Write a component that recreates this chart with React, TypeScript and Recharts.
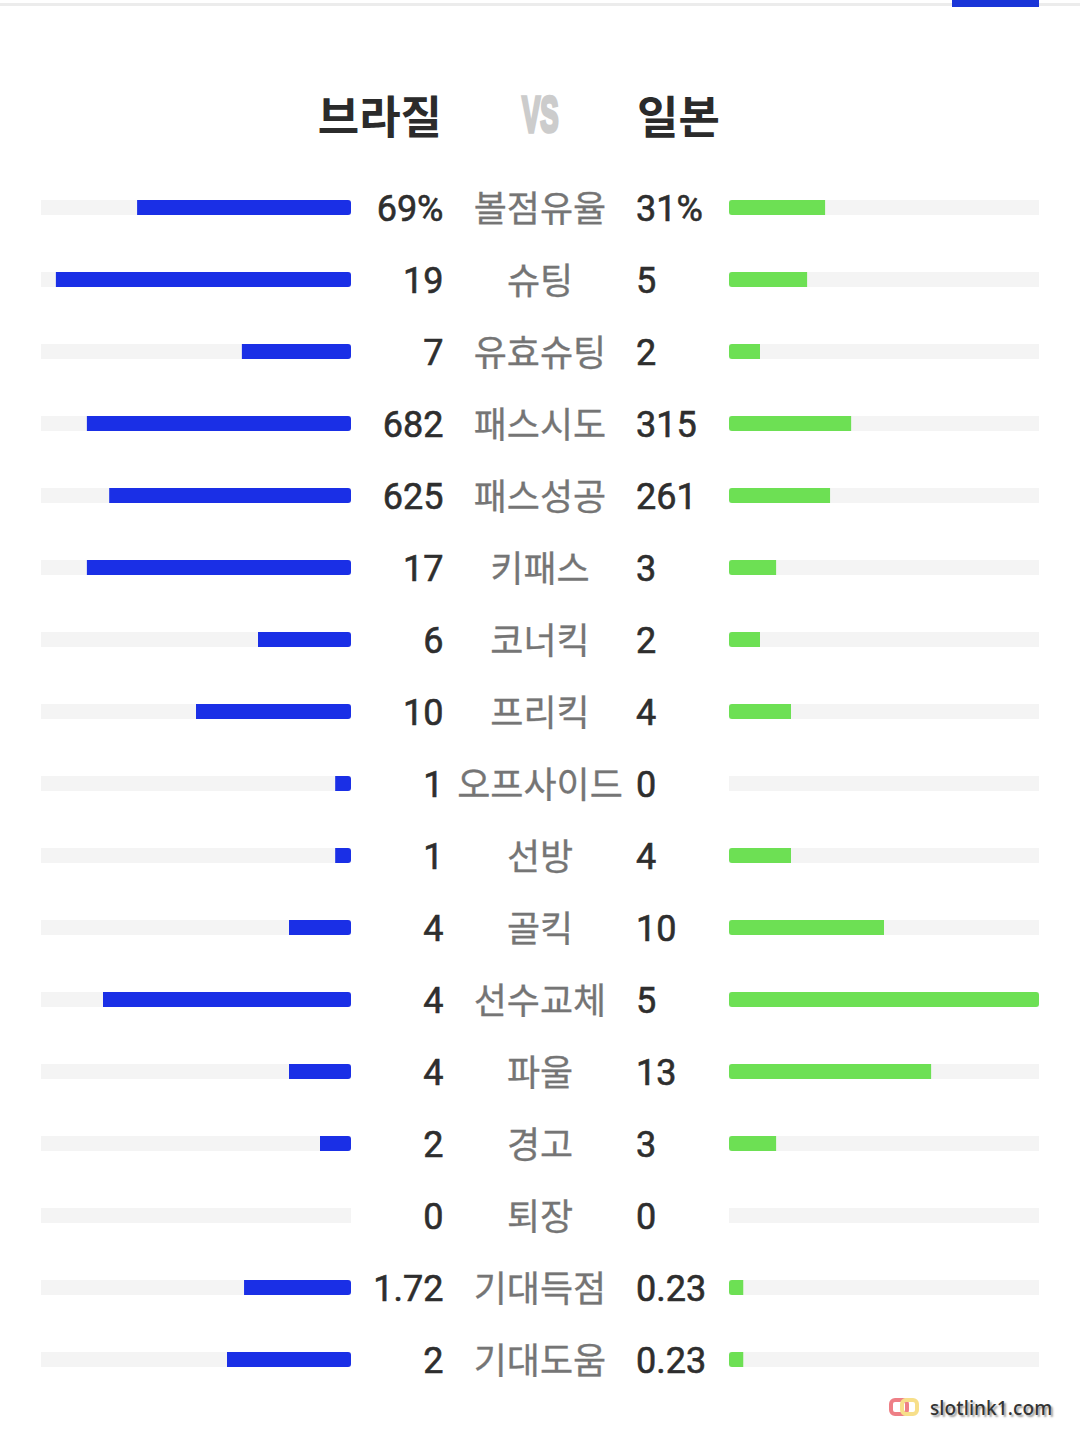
import React from "react";
import { BarChart, Bar, XAxis, YAxis, Rectangle } from "recharts";

const categories = ["볼점유율", "슈팅", "유효슈팅", "패스시도", "패스성공", "키패스", "코너킥", "프리킥", "오프사이드", "선방", "골킥", "선수교체", "파울", "경고", "퇴장", "기대득점", "기대도움"];
const brazilLabels = ["69%", "19", "7", "682", "625", "17", "6", "10", "1", "1", "4", "4", "4", "2", "0", "1.72", "2"];
const japanLabels = ["31%", "5", "2", "315", "261", "3", "2", "4", "0", "4", "10", "5", "13", "3", "0", "0.23", "0.23"];
// bar fill, % of track
const brazilBars = [69, 95.2, 35.2, 85.2, 78, 85.2, 30, 50, 5.1, 5.1, 20, 80, 20, 10, 0, 34.5, 40];
const japanBars = [31, 25.2, 10, 39.4, 32.6, 15.2, 10, 20, 0, 20, 50, 100, 65.2, 15.2, 0, 4.6, 4.6];
const trackMax = 100;

const numFont = "Roboto, sans-serif";
const krFont = "'Noto Sans CJK KR', sans-serif";

const rows = categories.map((c, i) => ({
  name: c,
  track: trackMax,
  brazil: brazilBars[i],
  japan: japanBars[i],
}));

function LeftTick({ x, y, index }: any) {
  return (
    <g>
      <text x={x + 84.5} y={y + 14} textAnchor="end" fontFamily={numFont} fontSize={36} fill="#2e2e2e" stroke="#2e2e2e" strokeWidth={0.6}>
        {brazilLabels[index]}
      </text>
      <text x={x + 181} y={y + 15} textAnchor="middle" fontFamily={krFont} fontSize={36} fill="#757575" stroke="#757575" strokeWidth={0.3}>
        {categories[index]}
      </text>
    </g>
  );
}

function RightTick({ x, y, index }: any) {
  return (
    <text x={x - 85} y={y + 14} textAnchor="start" fontFamily={numFont} fontSize={36} fill="#2e2e2e" stroke="#2e2e2e" strokeWidth={0.6}>
      {japanLabels[index]}
    </text>
  );
}

function JapanBar(props: any) {
  return <Rectangle {...props} radius={props.japan >= trackMax ? 3 : [3, 0, 0, 3]} />;
}

export default function App() {
  return (
    <div style={{ position: "absolute", left: 0, top: 0, width: 1080, height: 1449, background: "#fff", overflow: "hidden" }}>
      <div style={{ position: "absolute", left: 0, top: 3, width: 1080, height: 3, background: "#ececec" }} />
      <div style={{ position: "absolute", left: 952, top: 0, width: 87, height: 7, background: "#1a35d8" }} />

      <div style={{ position: "absolute", right: 638, top: 83, fontFamily: krFont, fontWeight: 700, fontSize: 45, lineHeight: "64px", color: "#2b2b2b" }}>브라질</div>
      <div style={{ position: "absolute", left: 637, top: 83, fontFamily: krFont, fontWeight: 700, fontSize: 45, lineHeight: "64px", color: "#2b2b2b" }}>일본</div>
      <svg style={{ position: "absolute", left: 480, top: 85 }} width={120} height={60}>
        <text transform="translate(42 47) scale(0.55 1)" fontFamily="'Liberation Sans', sans-serif" fontWeight={700} fontSize={50} fill="#cccccc" stroke="#cccccc" strokeWidth={3.5}>VS</text>
      </svg>

      <div style={{ position: "absolute", left: 41, top: 171 }}>
        <BarChart width={620} height={1224} data={rows} layout="vertical" margin={{ top: 0, right: 0, bottom: 0, left: 0 }} barCategoryGap={0} barGap={-15}>
          <XAxis type="number" domain={[0, trackMax]} reversed hide />
          <YAxis type="category" dataKey="name" orientation="right" width={310} axisLine={false} tickLine={false} interval={0} tick={<LeftTick />} />
          <Bar dataKey="track" barSize={15} fill="#f4f4f4" isAnimationActive={false} />
          <Bar dataKey="brazil" barSize={15} fill="#1a2fe6" radius={[3, 0, 0, 3]} isAnimationActive={false} />
        </BarChart>
      </div>

      <div style={{ position: "absolute", left: 629, top: 171 }}>
        <BarChart width={410} height={1224} data={rows} layout="vertical" margin={{ top: 0, right: 0, bottom: 0, left: 0 }} barCategoryGap={0} barGap={-15}>
          <XAxis type="number" domain={[0, trackMax]} hide />
          <YAxis type="category" dataKey="name" width={100} axisLine={false} tickLine={false} interval={0} tick={<RightTick />} />
          <Bar dataKey="track" barSize={15} fill="#f4f4f4" isAnimationActive={false} />
          <Bar dataKey="japan" barSize={15} fill="#6de054" shape={JapanBar} isAnimationActive={false} />
        </BarChart>
      </div>

      <svg style={{ position: "absolute", left: 888, top: 1397 }} width={34} height={22}>
        <rect x={3} y={3} width={16} height={14} rx={4} fill="none" stroke="#ee7f86" strokeWidth={4} />
        <rect x={14} y={3} width={15} height={14} rx={4} fill="none" stroke="#f7df8a" strokeWidth={4} />
      </svg>
      <div style={{ position: "absolute", left: 930, top: 1394, fontFamily: "'Noto Sans', sans-serif", fontWeight: 500, fontSize: 19, letterSpacing: 0.1, lineHeight: "28px", color: "#333", textShadow: "2px 2px 2px #999" }}>slotlink1.com</div>
    </div>
  );
}
